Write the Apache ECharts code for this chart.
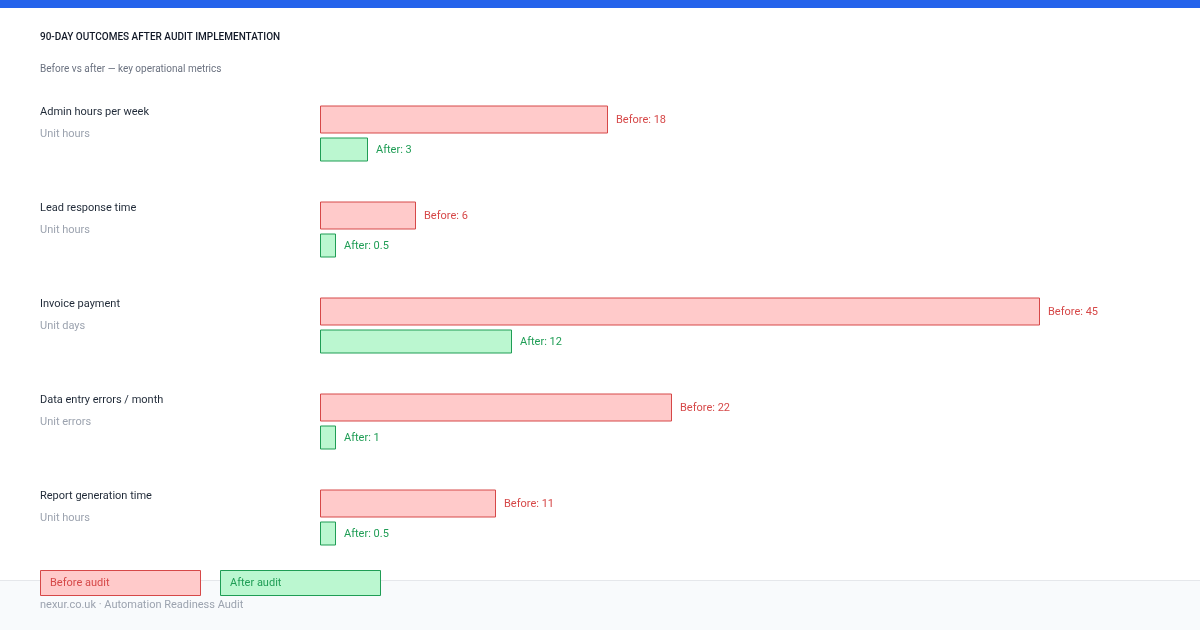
<!DOCTYPE html>
<html>
<head>
<meta charset="utf-8">
<script src="https://cdn.jsdelivr.net/npm/echarts@6/dist/echarts.min.js"></script>
<style>
  html, body { margin: 0; padding: 0; background: #fff; }
  #main { width: 1200px; height: 630px; }
</style>
</head>
<body>
<div id="main"></div>
<script>
var metrics = ['Admin hours per week', 'Lead response time', 'Invoice payment', 'Data entry errors / month', 'Report generation time'];
var units = ['hours', 'hours', 'days', 'errors', 'hours'];
var beforeValues = [18, 6, 45, 22, 11];
var afterValues = [3, 0.5, 12, 1, 0.5];

var font = 'Roboto, "Noto Sans", sans-serif';
var red = '#d64848';
var green = '#1f9d55';
var redFill = '#ffcaca';
var greenFill = '#bbf7d0';

var myChart = echarts.init(document.getElementById('main'));

var grids = [], xAxes = [], yAxes = [], series = [], graphics = [];

// one grid per bar, all sharing the same 0..50 scale
function addBar(idx, top, height, value, fill, border, prefix, minLen) {
    grids.push({ left: 320, width: 800, top: top, height: height });
    xAxes.push({ type: 'value', gridIndex: idx, min: 0, max: 50, show: false });
    yAxes.push({ type: 'category', gridIndex: idx, data: [metrics[Math.floor(idx / 2)]], show: false });
    series.push({
        type: 'bar',
        name: prefix,
        xAxisIndex: idx,
        yAxisIndex: idx,
        data: [value],
        barWidth: height - 1,
        barMinHeight: minLen,
        silent: true,
        itemStyle: { color: fill, borderColor: border, borderWidth: 1 },
        label: {
            show: true,
            position: 'right',
            distance: 8,
            offset: [0, 1],
            color: border,
            fontFamily: font,
            fontSize: 11,
            formatter: prefix + ': {c}'
        }
    });
}

for (var i = 0; i < metrics.length; i++) {
    var rowTop = 105 + i * 96;
    addBar(i * 2, rowTop, 29, beforeValues[i], redFill, red, 'Before', 0);
    addBar(i * 2 + 1, rowTop + 32, 25, afterValues[i], greenFill, green, 'After', 16);

    graphics.push({
        type: 'text', left: 40, top: rowTop + 2,
        style: { text: metrics[i], fill: '#1f2937', font: '11px ' + font }
    });
    graphics.push({
        type: 'text', left: 40, top: rowTop + 24,
        style: { text: 'Unit ' + units[i], fill: '#9ca3af', font: '11px ' + font }
    });
}

// top accent bar
graphics.push({ type: 'rect', left: 0, top: 0, shape: { width: 1200, height: 8 }, style: { fill: '#2563eb' } });

// footer
graphics.push({ type: 'rect', left: 0, top: 580, z: 1, shape: { width: 1200, height: 50 }, style: { fill: '#f8fafc' } });
graphics.push({ type: 'rect', left: 0, top: 580, z: 2, shape: { width: 1200, height: 1 }, style: { fill: '#e5e7eb' } });
graphics.push({
    type: 'text', left: 40, top: 600, z: 3,
    style: { text: 'nexur.co.uk · Automation Readiness Audit', fill: '#9ca3af', font: '11px ' + font }
});

// legend boxes
var legendItems = [
    { text: 'Before audit', fill: redFill, stroke: red, x: 40 },
    { text: 'After audit', fill: greenFill, stroke: green, x: 220 }
];
legendItems.forEach(function (it) {
    graphics.push({
        type: 'rect', left: it.x, top: 570, z: 5,
        shape: { width: 160, height: 25 },
        style: { fill: it.fill, stroke: it.stroke, lineWidth: 1 }
    });
    graphics.push({
        type: 'text', left: it.x + 10, top: 578, z: 6,
        style: { text: it.text, fill: it.stroke, font: '11px ' + font }
    });
});

option = {
    backgroundColor: '#ffffff',
    animation: false,
    title: [
        {
            text: '90-DAY OUTCOMES AFTER AUDIT IMPLEMENTATION',
            left: 35, top: 27,
            textStyle: { fontFamily: font, fontSize: 10, fontWeight: 500, color: '#111827' }
        },
        {
            text: 'Before vs after — key operational metrics',
            left: 35, top: 59,
            textStyle: { fontFamily: font, fontSize: 10, fontWeight: 400, color: '#6b7280' }
        }
    ],
    grid: grids,
    xAxis: xAxes,
    yAxis: yAxes,
    series: series,
    graphic: graphics
};
myChart.setOption(option);
</script>
</body>
</html>
